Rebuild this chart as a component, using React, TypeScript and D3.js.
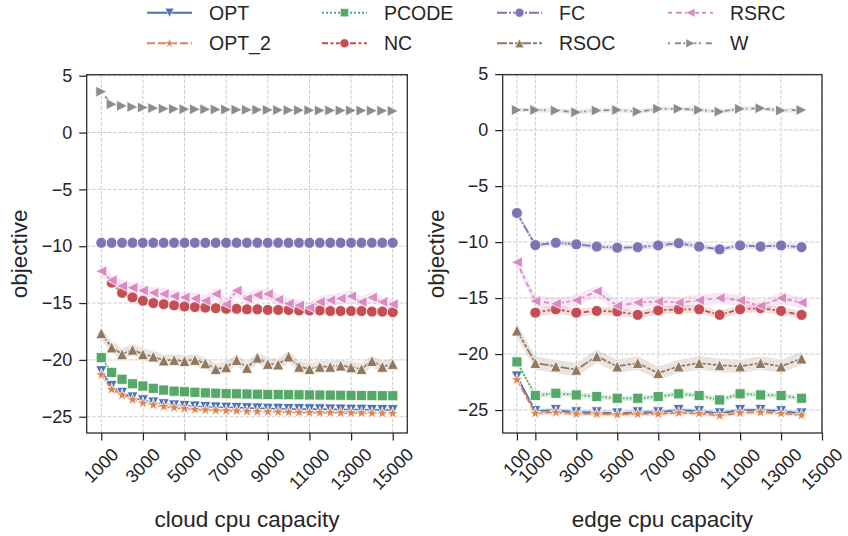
import React, { useEffect, useRef } from 'react';
import * as d3 from 'd3';

// ---- data ----
const seriesNames = ['OPT', 'OPT_2', 'PCODE', 'NC', 'FC', 'RSOC', 'RSRC', 'W'];

const cloudCpu = [1000, 1500, 2000, 2500, 3000, 3500, 4000, 4500, 5000, 5500, 6000, 6500, 7000, 7500,
  8000, 8500, 9000, 9500, 10000, 10500, 11000, 11500, 12000, 12500, 13000, 13500, 14000, 14500, 15000];

const cloudOPT = [-21.0, -22.3, -22.9, -23.3, -23.55, -23.75, -23.9, -24.0, -24.05, -24.1, -24.15, -24.18, -24.2,
  -24.22, -24.25, -24.27, -24.29, -24.3, -24.32, -24.33, -24.34, -24.35, -24.36, -24.37, -24.38, -24.39, -24.4, -24.41, -24.42];
const cloudOPT2 = [-21.3, -22.6, -23.1, -23.5, -23.8, -23.95, -24.1, -24.2, -24.28, -24.35, -24.4, -24.43, -24.46,
  -24.49, -24.52, -24.54, -24.56, -24.58, -24.6, -24.61, -24.62, -24.63, -24.64, -24.65, -24.66, -24.67, -24.68, -24.69, -24.7];
const cloudPCODE = [-19.8, -21.1, -21.7, -22.1, -22.3, -22.5, -22.65, -22.75, -22.8, -22.85, -22.9, -22.93, -22.96,
  -22.98, -23.0, -23.02, -23.04, -23.05, -23.06, -23.07, -23.08, -23.09, -23.1, -23.11, -23.12, -23.13, -23.14, -23.15, -23.15];
// first NC point is not visible in the picture
const cloudNC = [null, -13.2, -14.1, -14.5, -14.8, -15.0, -15.1, -15.2, -15.3, -15.35, -15.4, -15.45, -15.5, -15.5,
  -15.55, -15.55, -15.6, -15.6, -15.6, -15.65, -15.65, -15.65, -15.7, -15.7, -15.7, -15.7, -15.75, -15.75, -15.8];
const cloudFC = [-9.7, -9.7, -9.7, -9.7, -9.7, -9.7, -9.7, -9.7, -9.7, -9.7, -9.7, -9.7, -9.7, -9.7, -9.7,
  -9.7, -9.7, -9.7, -9.7, -9.7, -9.7, -9.7, -9.7, -9.7, -9.7, -9.7, -9.7, -9.7, -9.7];
const cloudRSOC = [-17.65, -18.9, -19.5, -19.1, -19.5, -19.7, -20.05, -20.0, -20.1, -20.0, -20.3, -20.8, -20.65,
  -20.0, -20.7, -19.8, -20.35, -20.4, -19.7, -20.6, -20.8, -20.6, -20.6, -20.5, -20.65, -20.8, -20.1, -20.6, -20.35];
const cloudRSRC = [-12.2, -13.0, -13.5, -13.65, -13.9, -14.1, -14.2, -14.4, -14.5, -14.6, -14.8, -14.2, -15.1,
  -13.9, -14.6, -14.3, -14.2, -14.7, -15.05, -15.2, -15.4, -14.9, -14.75, -14.6, -14.4, -14.9, -14.5, -14.9, -15.1];
const cloudW = [3.6, 2.5, 2.35, 2.25, 2.2, 2.15, 2.1, 2.08, 2.06, 2.05, 2.04, 2.03, 2.02, 2.01, 2.0, 2.0,
  1.99, 1.98, 1.97, 1.97, 1.96, 1.95, 1.95, 1.94, 1.94, 1.93, 1.92, 1.92, 1.9];

const edgeCpu = [100, 1000, 2000, 3000, 4000, 5000, 6000, 7000, 8000, 9000, 10000, 11000, 12000, 13000, 14000];

const edgeOPT = [-22.0, -25.1, -25.0, -25.2, -25.2, -25.3, -25.2, -25.2, -25.0, -25.1, -25.3, -25.0, -25.0, -25.1, -25.3];
const edgeOPT2 = [-22.3, -25.3, -25.2, -25.35, -25.35, -25.4, -25.35, -25.35, -25.25, -25.3, -25.5, -25.25, -25.2, -25.3, -25.45];
const edgePCODE = [-20.7, -23.7, -23.5, -23.65, -23.8, -23.95, -23.95, -23.8, -23.55, -23.7, -24.1, -23.55, -23.65, -23.7, -23.95];
const edgeNC = [null, -16.3, -16.0, -16.3, -16.15, -16.2, -16.5, -16.1, -16.0, -16.0, -16.5, -16.0, -15.9, -16.15, -16.5];
const edgeFC = [-7.4, -10.27, -10.06, -10.2, -10.4, -10.5, -10.45, -10.3, -10.1, -10.4, -10.65, -10.3, -10.4, -10.3, -10.45];
const edgeRSOC = [-17.9, -20.8, -21.1, -21.4, -20.2, -21.1, -20.8, -21.7, -21.1, -20.8, -21.0, -21.1, -20.8, -21.1, -20.4];
const edgeRSRC = [-11.8, -15.27, -15.5, -15.2, -14.4, -15.7, -15.4, -15.3, -15.4, -15.2, -15.0, -15.2, -15.7, -15.0, -15.4];
const edgeW = [1.8, 1.8, 1.75, 1.6, 1.75, 1.8, 1.65, 1.9, 1.9, 1.8, 1.65, 1.9, 1.95, 1.75, 1.8];

// half-width of the confidence band for each series
const cloudBand = [0.12, 0.12, 0.12, 0.3, 0.08, 0.5, 0.5, 0.08];
const edgeBand = [0.2, 0.2, 0.25, 0.35, 0.25, 0.6, 0.5, 0.2];

const cloudTicks = [1000, 3000, 5000, 7000, 9000, 11000, 13000, 15000];
const edgeTicks = [100, 1000, 3000, 5000, 7000, 9000, 11000, 13000, 15000];
const yTicks = [5, 0, -5, -10, -15, -20, -25];

// ---- styles ----
const colors = ['#4c72b0', '#dd8452', '#55a868', '#c44e52', '#8172b3', '#937860', '#da8bc3', '#8c8c8c'];
const markers = ['triDown', 'star', 'square', 'circle', 'circle', 'triUp', 'triLeft', 'triRight'];
const dashes = [[], [4, 1.5], [1, 1], [3, 1.25, 1.5, 1.25], [5, 1, 1, 1], [5, 1, 2, 1, 2, 1], [2, 2, 3, 1.5], [1, 2.5, 3, 1.2]];
const FONT = '"Liberation Sans", Arial, sans-serif';
const INK = '#262626';
const LW = 1.75;

function poly(pts: number[][]) {
  return 'M' + pts.map(p => p.map(v => v.toFixed(2)).join(',')).join('L') + 'Z';
}

function markerPath(kind: string, ms: number): string {
  const h = ms / 2;
  switch (kind) {
    case 'triUp': return poly([[0, -h], [-h, h], [h, h]]);
    case 'triDown': return poly([[0, h], [-h, -h], [h, -h]]);
    case 'triLeft': return poly([[-h, 0], [h, -h], [h, h]]);
    case 'triRight': return poly([[h, 0], [-h, -h], [-h, h]]);
    case 'square': {
      const s = h * 0.92;
      return poly([[-s, -s], [s, -s], [s, s], [-s, s]]);
    }
    case 'star': {
      const pts: number[][] = [];
      const R = h * 1.15;
      for (let i = 0; i < 10; i++) {
        const r = i % 2 === 0 ? R : R * 0.382;
        const a = -Math.PI / 2 + (i * Math.PI) / 5;
        pts.push([r * Math.cos(a), r * Math.sin(a)]);
      }
      return poly(pts);
    }
    default:
      return d3.symbol(d3.symbolCircle, Math.PI * h * h)() as string;
  }
}

const fmtY = (v: number) => String(v).replace('-', '\u2212');

function drawPanel(svg: any, p: any) {
  const x = d3.scaleLinear().domain(p.xDomain).range(p.xRange);
  const y = d3.scaleLinear().domain(p.yDomain).range(p.yRange);
  const [x0, x1] = p.xRange;
  const [yb, yt] = p.yRange;
  const g = svg.append('g');

  // grid
  g.append('g').selectAll('line').data(p.xTicks).join('line')
    .attr('x1', (d: number) => x(d)).attr('x2', (d: number) => x(d))
    .attr('y1', yb).attr('y2', yt)
    .attr('stroke', '#cccccc').attr('stroke-width', 1).attr('stroke-dasharray', '3.7,1.6');
  g.append('g').selectAll('line').data(yTicks).join('line')
    .attr('x1', x0).attr('x2', x1)
    .attr('y1', (d: number) => y(d)).attr('y2', (d: number) => y(d))
    .attr('stroke', '#cccccc').attr('stroke-width', 1).attr('stroke-dasharray', '3.7,1.6');

  const plot = g.append('g');

  // series: band, line, markers
  p.series.forEach((vals: (number | null)[], i: number) => {
    const pts = vals.map((v, k) => ({ x: p.xs[k], y: v })).filter(d => d.y !== null) as { x: number; y: number }[];
    const area = d3.area<any>()
      .x(d => x(d.x))
      .y0(d => y(d.y - p.band[i]))
      .y1(d => y(d.y + p.band[i]));
    plot.append('path').attr('d', area(pts))
      .attr('fill', colors[i]).attr('fill-opacity', 0.2).attr('stroke', 'none');

    const line = d3.line<any>().x(d => x(d.x)).y(d => y(d.y));
    plot.append('path').attr('d', line(pts))
      .attr('fill', 'none').attr('stroke', colors[i]).attr('stroke-width', LW)
      .attr('stroke-dasharray', dashes[i].length ? dashes[i].map(v => v * LW).join(',') : null);

    plot.append('g').selectAll('path').data(pts).join('path')
      .attr('transform', (d: any) => `translate(${x(d.x)},${y(d.y)})`)
      .attr('d', markerPath(markers[i], 11))
      .attr('fill', colors[i]).attr('stroke', '#ffffff').attr('stroke-width', 0.8);
  });

  // y axis
  const yAxis = d3.axisLeft(y).tickValues(yTicks).tickSize(7.5).tickPadding(7).tickFormat((d: any) => fmtY(d));
  const ya = g.append('g').attr('transform', `translate(${x0},0)`).call(yAxis);
  ya.select('.domain').remove();
  ya.selectAll('line').attr('stroke', INK).attr('stroke-width', 1.25);
  ya.selectAll('text').attr('fill', INK).style('font-size', '18px').style('font-family', FONT);

  // x axis
  const xAxis = d3.axisBottom(x).tickValues(p.xTicks).tickSize(7.5).tickFormat(() => '');
  const xa = g.append('g').attr('transform', `translate(0,${yb})`).call(xAxis);
  xa.select('.domain').remove();
  xa.selectAll('line').attr('stroke', INK).attr('stroke-width', 1.25);

  // rotated tick labels (bbox centred under the tick, top aligned)
  const fs = 18;
  g.append('g').selectAll('text').data(p.xTicks).join('text')
    .attr('transform', (d: number) => {
      const w = String(d).length * 0.556 * fs;
      const side = (w + fs * 0.85) / Math.SQRT2;
      const cy = yb + 13 + side / 2;
      return `translate(${x(d)},${cy}) rotate(-45)`;
    })
    .attr('text-anchor', 'middle').attr('dominant-baseline', 'central')
    .attr('fill', INK).style('font-size', `${fs}px`).style('font-family', FONT)
    .text((d: number) => String(d));

  // spines
  g.append('rect').attr('x', x0).attr('y', yt).attr('width', x1 - x0).attr('height', yb - yt)
    .attr('fill', 'none').attr('stroke', INK).attr('stroke-width', 1.25);

  // axis labels
  g.append('text')
    .attr('x', (x0 + x1) / 2).attr('y', 527)
    .attr('text-anchor', 'middle').attr('fill', INK)
    .style('font-size', '22.5px').style('font-family', FONT)
    .text(p.xlabel);
  g.append('text')
    .attr('transform', `translate(${p.ylabelX},${(yb + yt) / 2}) rotate(-90)`)
    .attr('text-anchor', 'middle').attr('dominant-baseline', 'central').attr('fill', INK)
    .style('font-size', '22.5px').style('font-family', FONT)
    .text('objective');
}

export default function App() {
  const ref = useRef<SVGSVGElement>(null);

  useEffect(() => {
    const svg = d3.select(ref.current);
    svg.selectAll('*').remove();

    drawPanel(svg, {
      xDomain: [300, 15700], xRange: [86.7, 407.3],
      yDomain: [-26.43, 5.09], yRange: [433, 74.7],
      xTicks: cloudTicks, xs: cloudCpu,
      series: [cloudOPT, cloudOPT2, cloudPCODE, cloudNC, cloudFC, cloudRSOC, cloudRSRC, cloudW],
      band: cloudBand, xlabel: 'cloud cpu capacity', ylabelX: 19,
    });
    drawPanel(svg, {
      xDomain: [-595, 15000], xRange: [502.7, 822],
      yDomain: [-27.05, 4.95], yRange: [433, 74.7],
      xTicks: edgeTicks, xs: edgeCpu,
      series: [edgeOPT, edgeOPT2, edgePCODE, edgeNC, edgeFC, edgeRSOC, edgeRSRC, edgeW],
      band: edgeBand, xlabel: 'edge cpu capacity', ylabelX: 436,
    });

    // legend (4 columns, filled column-wise)
    const colX = [147, 322, 497, 668];
    const rowY = [12.7, 43.3];
    const lg = svg.append('g');
    seriesNames.forEach((name, i) => {
      const cx = colX[Math.floor(i / 2)];
      const cy = rowY[i % 2];
      lg.append('line').attr('x1', cx).attr('x2', cx + 45).attr('y1', cy).attr('y2', cy)
        .attr('stroke', colors[i]).attr('stroke-width', 2)
        .attr('stroke-dasharray', dashes[i].length ? dashes[i].map(v => v * 2).join(',') : null);
      lg.append('path').attr('transform', `translate(${cx + 22.5},${cy})`)
        .attr('d', markerPath(markers[i], 9))
        .attr('fill', colors[i]).attr('stroke', '#ffffff').attr('stroke-width', 0.6);
      lg.append('text').attr('x', cx + 62).attr('y', cy)
        .attr('dominant-baseline', 'central').attr('fill', INK)
        .style('font-size', '19.5px').style('font-family', FONT)
        .text(name);
    });

    return () => {
      svg.selectAll('*').remove();
    };
  }, []);

  return (
    <svg ref={ref} width={848} height={536}
      style={{ position: 'absolute', left: 0, top: 0, background: '#ffffff' }} />
  );
}
